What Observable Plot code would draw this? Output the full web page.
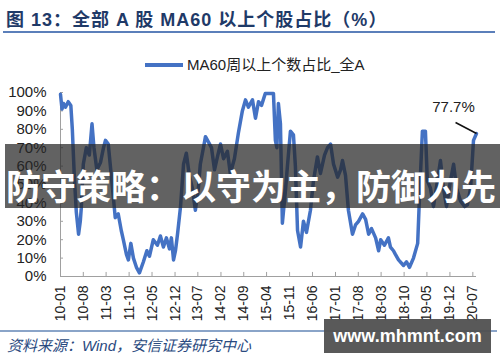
<!DOCTYPE html>
<html>
<head>
<meta charset="utf-8">
<script src="https://cdn.jsdelivr.net/npm/d3@7"></script>
<script src="https://cdn.jsdelivr.net/npm/@observablehq/plot@0.6"></script>
<style>
  html, body { margin: 0; padding: 0; background: #fff; }
  #wrap { position: relative; width: 500px; height: 362px; overflow: hidden; background: #fff;
          font-family: "Liberation Sans", Arial, "Noto Sans CJK SC", sans-serif; }
  #chart { position: absolute; left: 0; top: 0; }
  .abs { position: absolute; white-space: nowrap; }
</style>
</head>
<body>
<div id="wrap">
  <div id="chart"></div>
  <div class="abs" id="title" style="left:6px; top:5px; font-size:18px; font-weight:bold; color:#1f3a68; letter-spacing:1px; font-family:'Liberation Sans','Noto Sans CJK SC',sans-serif;"></div>
  <div class="abs" style="left:3px; top:31px; width:492px; height:2px; background:#5b7fba;"></div>
  <div class="abs" style="left:145px; top:63px; width:38px; height:4px; background:#4472c4;"></div>
  <div class="abs" id="legend" style="left:187px; top:56px; font-size:15px; line-height:18px; color:#222; font-family:'Liberation Sans','Noto Sans CJK SC',sans-serif;"></div>
  <div class="abs" style="left:0px; top:330px; width:497px; height:1.5px; background:#8aa4c8;"></div>
  <div class="abs" id="source" style="left:7px; top:337px; font-size:15px; line-height:18px; font-style:italic; color:#2a4a80; font-family:'Liberation Sans','Noto Sans CJK SC',sans-serif;"></div>
  <div class="abs" style="left:5px; top:144px; width:495px; height:64px; background:rgba(38,38,38,0.72);"></div>
  <div class="abs" id="banner" style="left:0px; top:167px; width:502px; text-align:center; font-size:35px; line-height:35px; font-weight:bold; color:#fff; font-family:'Noto Sans CJK SC',sans-serif;"></div>
  <div class="abs" id="wm" style="left:324px; top:319px; width:167px; height:34px; background:rgba(80,80,80,0.95); color:#fff; font-size:18px; font-weight:bold; line-height:34px; text-align:center; font-family:'Liberation Sans',Arial,sans-serif;"></div>
</div>
<script>
// ---- texts ----
const titleText = "图 13：全部 A 股 MA60 以上个股占比（%）";
const seriesName = "MA60周以上个数占比_全A";
const sourceText = "资料来源：Wind，安信证券研究中心";
const bannerText = "防守策略：以守为主，防御为先";
const watermarkText = "www.mhmnt.com";
const lastLabel = "77.7%";

// ---- tick labels ----
const xTickLabels = ["10-01","10-08","11-03","11-10","12-05","12-12","13-07","14-02","14-09","15-04","15-11","16-06","17-01","17-08","18-03","18-10","19-05","19-12","20-07"];
const yTickValues = [0,10,20,30,40,50,60,70,80,90,100];

// ---- series ----
const dates = ["2010-01-01","2010-01-15","2010-01-29","2010-02-16","2010-03-14","2010-04-07","2010-04-21","2010-05-09","2010-05-28","2010-06-18","2010-07-04","2010-07-13","2010-08-01","2010-08-29","2010-09-26","2010-10-21","2010-11-08","2010-12-05",
"2011-01-08","2011-02-05","2011-02-23","2011-03-21","2011-04-23","2011-05-25","2011-06-22","2011-07-20","2011-08-08","2011-09-06","2011-09-24","2011-10-17","2011-11-10","2011-12-08",
"2012-01-05","2012-02-11","2012-03-14","2012-04-07","2012-05-13","2012-06-20","2012-07-18","2012-08-15","2012-09-12","2012-10-10","2012-10-28","2012-11-17","2012-12-05","2012-12-24",
"2013-01-21","2013-02-18","2013-03-16","2013-04-13","2013-05-11","2013-06-08","2013-07-06","2013-07-24","2013-08-22","2013-09-10","2013-10-08","2013-11-05","2013-12-03","2013-12-30",
"2014-01-28","2014-02-25","2014-04-02","2014-04-29","2014-06-06","2014-07-13","2014-08-19","2014-09-17","2014-10-14","2014-11-21","2014-12-19",
"2015-01-16","2015-02-13","2015-03-20","2015-06-04","2015-06-22","2015-07-06","2015-07-20","2015-08-08","2015-08-26","2015-09-24","2015-10-12","2015-11-09","2015-12-07","2015-12-25",
"2016-01-14","2016-02-11","2016-03-09","2016-04-06","2016-05-13","2016-06-10","2016-07-17","2016-08-14","2016-09-21","2016-10-19","2016-11-16","2016-12-14",
"2017-01-21","2017-02-17","2017-03-07","2017-04-04","2017-05-01","2017-06-08","2017-07-06","2017-08-03","2017-09-10","2017-10-08","2017-11-05","2017-12-02",
"2018-01-09","2018-02-06","2018-02-25","2018-04-01","2018-05-08","2018-05-27","2018-06-24","2018-07-12","2018-08-10","2018-09-26","2018-10-23","2018-11-20","2018-12-27",
"2019-02-04","2019-02-22","2019-03-20","2019-04-17","2019-05-05","2019-06-03","2019-07-01","2019-08-07","2019-09-04","2019-10-02","2019-10-30","2019-12-06",
"2020-01-04","2020-02-01","2020-03-08","2020-04-15","2020-05-12","2020-06-10","2020-07-07","2020-08-04"];
const values = [99,91,94,92,95,93,80,55,35,23,30,37,61,70,66,83,70,58,
62,70,74,72,52,32,34,25,20,12,9,18,10,5,
2,8,14,11,20,17,22,16,21,15,21,9,14,23,
38,61,67,55,48,36,48,61,70,76,73,70,58,65,
72,64,68,56,64,78,90,96,92,96,86,
95,93,99.5,99.5,74,70,94,83,29,47,60,79,77,60,
25,16,30,24,36,52,65,56,66,70,72,61,
54,58,63,55,36,23,28,30,34,31,23,26,
21,14,20,17,21,16,14,12,9,6,8,5,10,
18,45,79,79,52,48,38,52,63,48,38,52,
61,48,41,38,39,48,74,77.7];

const parse = d3.utcParse("%Y-%m-%d");
const data = dates.map((d, i) => ({date: parse(d), value: values[i]}));
const tickDates = xTickLabels.map(s => d3.utcParse("%y-%m")(s));
const x0 = data[0].date;
const last = data[data.length - 1];

document.getElementById("title").textContent = titleText;
document.getElementById("legend").textContent = seriesName;
document.getElementById("source").textContent = sourceText;
document.getElementById("banner").textContent = bannerText;
document.getElementById("wm").textContent = watermarkText;

const axisColor = "#a0a0a0";
const fmt = d3.utcFormat("%y-%m");

const chart = Plot.plot({
  width: 500,
  height: 362,
  marginTop: 92,
  marginBottom: 86,
  marginLeft: 60,
  marginRight: 24,
  style: {fontFamily: "'Liberation Sans', Arial, sans-serif", background: "transparent", color: "#222"},
  x: {type: "utc", domain: [x0, last.date], label: null},
  y: {domain: [0, 100], label: null},
  marks: [
    Plot.ruleX([x0], {stroke: axisColor, strokeWidth: 1}),
    Plot.ruleY([0], {stroke: axisColor, strokeWidth: 1}),
    Plot.ruleX(tickDates, {x: d => d, y1: 0, y2: 2.2, stroke: axisColor}),
    Plot.ruleY(yTickValues, {y: d => d, x1: x0, x2: d3.utcDay.offset(x0, 28), stroke: axisColor}),
    Plot.axisY({ticks: yTickValues, tickSize: 0, tickPadding: 14, fontSize: 15, tickFormat: d => d + "%", fill: "#222", label: null}),
    Plot.axisX({ticks: tickDates, tickSize: 0, tickPadding: 9, tickRotate: -90, fontSize: 14, tickFormat: fmt, fill: "#222", label: null}),
    Plot.line(data, {x: "date", y: "value", stroke: "#4472c4", strokeWidth: 3.5, strokeLinejoin: "round"}),
    Plot.link([last], {x1: "date", y1: "value", x2: d => d3.utcDay.offset(d.date, -195), y2: d => d.value + 6, stroke: "#111", strokeWidth: 1.5}),
    Plot.text([last], {x: "date", y: "value", text: d => lastLabel, dx: -23, dy: -26, fontSize: 15, fill: "#222"})
  ]
});
document.getElementById("chart").appendChild(chart);
</script>
</body>
</html>
